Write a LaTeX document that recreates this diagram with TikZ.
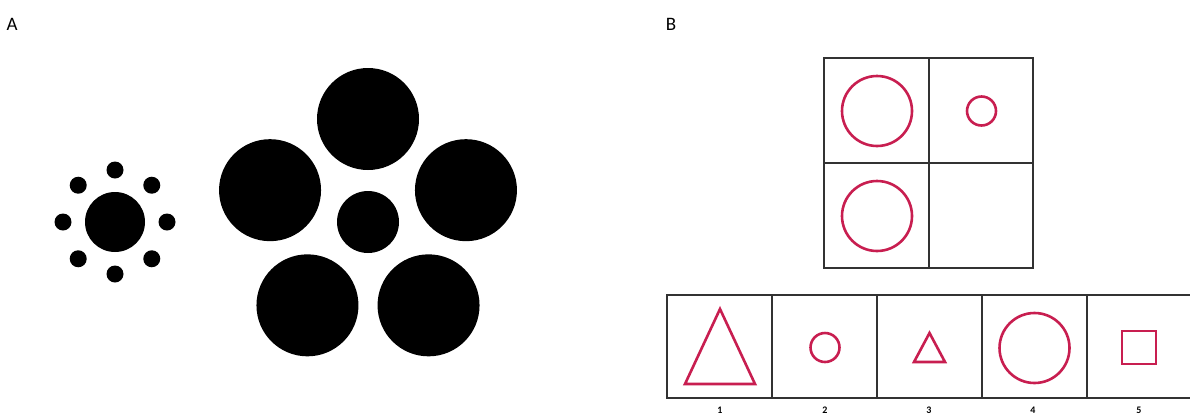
\documentclass[tikz,border=0pt]{standalone}
\usepackage{fontspec}
\setmainfont{Carlito}
\usetikzlibrary{calc}
\definecolor{shape}{RGB}{200,30,80}
\definecolor{gridc}{RGB}{50,50,50}
\begin{document}
\begin{tikzpicture}[x=1pt,y=-1pt,
  dot/.style={fill=black},
  redline/.style={draw=shape,line width=2.6pt},
  gridline/.style={draw=gridc,line width=1.3pt},
  panel/.style={font=\fontsize{19}{22}\selectfont,anchor=center,inner sep=0},
  num/.style={font=\bfseries\fontsize{10}{11}\selectfont,anchor=center,inner sep=0}]
\useasboundingbox[fill=white] (0,0) rectangle (1190,416);

% Panel labels
\node[panel] (labA) at (12,24) {A};
\node[panel] (labB) at (671,24) {B};

% Small Ebbinghaus figure
\fill[dot] (115,222) circle (30);
\foreach \a in {0,45,...,315}{
  \fill[dot] ($(115,222)+(\a:52)$) circle (8.5);
}

% Large Ebbinghaus figure
\fill[dot] (368,222) circle (31);
\foreach \a in {90,162,234,306,18}{
  \fill[dot] ($(368,222)+({cos(\a)*103},{-sin(\a)*103})$) circle (51);
}

% Top 2x2 grid
\draw[gridline] (824,58) rectangle (1033,268);
\draw[gridline] (929,58) -- (929,268);
\draw[gridline] (824,163) -- (1033,163);
\draw[redline] (877,111) circle (35);
\draw[redline] (981.5,111) circle (14.5);
\draw[redline] (877,216) circle (35);

% Bottom row of options
\draw[gridline] (667,295) rectangle (1192,398);
\foreach \x in {772,877,982,1087}{
  \draw[gridline] (\x,295) -- (\x,398);
}
\draw[redline,line join=miter] (720,309) -- (755,384) -- (685,384) -- cycle;
\draw[redline] (825,347.5) circle (14.5);
\draw[redline,line join=miter] (929.5,333) -- (945,362) -- (914,362) -- cycle;
\draw[redline] (1034.5,348) circle (35);
\draw[redline] (1122,331) rectangle (1156,364);

% Option numbers
\node[num] (n1) at (720,410.5) {1};
\node[num] (n2) at (825,410.5) {2};
\node[num] (n3) at (929,410.5) {3};
\node[num] (n4) at (1033,410.5) {4};
\node[num] (n5) at (1139,410.5) {5};
\end{tikzpicture}
\end{document}
